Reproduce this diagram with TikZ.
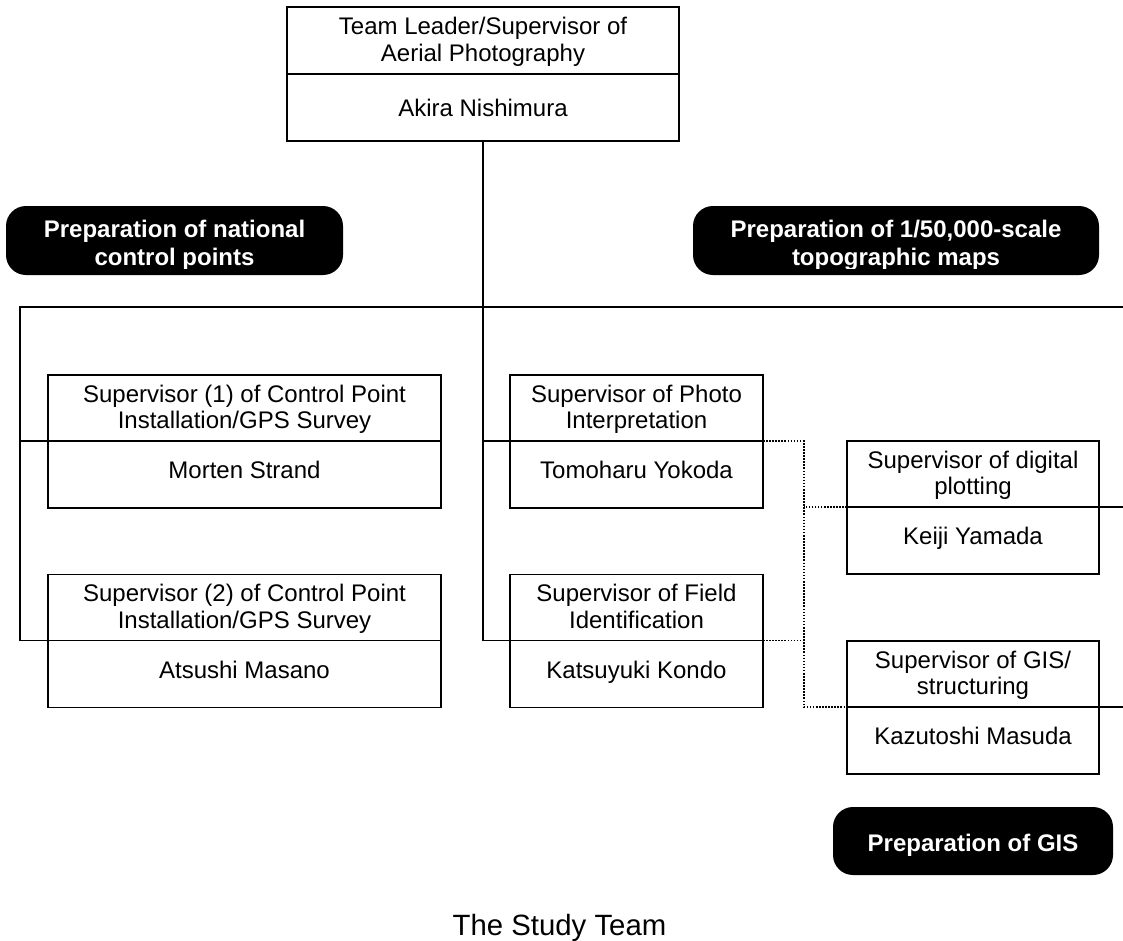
\documentclass[tikz,border=0pt]{standalone}
\usepackage{fontspec}
\setmainfont{Liberation Sans}
\def\pxu{0.75pt}
\begin{document}
\begin{tikzpicture}[x=0.75pt,y=-0.75pt,
  every node/.style={font=\fontsize{18}{20}\selectfont},
  cell/.style={draw, line width=1.4pt, inner sep=0pt, outer sep=0pt, align=center, anchor=center},
  titlecell/.style={cell, text height=33pt, text depth=2pt},
  namecell/.style={cell, text height=13pt, text depth=7pt},
  conn/.style={line width=1.4pt},
  dotconn/.style={line width=1.2pt, black, dash pattern=on 1.2pt off 1.1pt},
  tag/.style={fill=black, rounded corners=15pt, inner sep=0pt, outer sep=0pt, text=white,
    font=\bfseries\fontsize{18}{21}\selectfont, align=center},
  tagtext/.style={text=white, font=\bfseries\fontsize{18}{21}\selectfont,
    align=center, inner sep=0pt, text height=36.8pt, text depth=0pt},
  cliptag/.style={path picture={
    \clip ([yshift=5.25pt]path picture bounding box.south west) rectangle (path picture bounding box.north east);
    \node[tagtext] at (path picture bounding box.center) {#1};}}
]
\useasboundingbox (0,0) rectangle (1123,940);

% top box
\node[titlecell, minimum width=392*\pxu, minimum height=67*\pxu] (toptitle) at (483,40.5) {Team Leader/Supervisor of\\Aerial Photography};
\node[cell, text height=13.5pt, text depth=0pt, minimum width=392*\pxu, minimum height=67*\pxu] (topname) at (483,107.5) {Akira Nishimura};

% tags
\node[tag, minimum width=337*\pxu, minimum height=69*\pxu, cliptag={Preparation of national\\control points}] (tagL) at (174.5,240.5) {};
\node[tag, minimum width=406*\pxu, minimum height=69*\pxu, cliptag={Preparation of 1/50,000-scale\\topographic maps}] (tagR) at (896,240.5) {};
\node[tag, minimum width=280*\pxu, minimum height=68*\pxu, text height=15pt, text depth=0pt] (tagG) at (973,841) {Preparation of GIS};

% left column
\node[titlecell, minimum width=393*\pxu, minimum height=66*\pxu] (l1title) at (244.5,408) {Supervisor (1) of Control Point\\Installation/GPS Survey};
\node[namecell, minimum width=393*\pxu, minimum height=67*\pxu] (l1name) at (244.5,474.5) {Morten Strand};
\node[titlecell, minimum width=393*\pxu, minimum height=66*\pxu] (l2title) at (244.5,607.5) {Supervisor (2) of Control Point\\Installation/GPS Survey};
\node[namecell, minimum width=393*\pxu, minimum height=67*\pxu] (l2name) at (244.5,674) {Atsushi Masano};

% middle column
\node[titlecell, minimum width=253*\pxu, minimum height=66*\pxu] (m1title) at (636.5,408) {Supervisor of Photo\\Interpretation};
\node[namecell, minimum width=253*\pxu, minimum height=67*\pxu] (m1name) at (636.5,474.5) {Tomoharu Yokoda};
\node[titlecell, minimum width=253*\pxu, minimum height=66*\pxu] (m2title) at (636.5,607.5) {Supervisor of Field\\Identification};
\node[namecell, minimum width=253*\pxu, minimum height=67*\pxu] (m2name) at (636.5,674) {Katsuyuki Kondo};

% right column
\node[titlecell, minimum width=252*\pxu, minimum height=66*\pxu] (r1title) at (973,474) {Supervisor of digital\\plotting};
\node[namecell, minimum width=252*\pxu, minimum height=67*\pxu] (r1name) at (973,540.5) {Keiji Yamada};
\node[titlecell, minimum width=252*\pxu, minimum height=66*\pxu] (r2title) at (973,674) {Supervisor of GIS/\\structuring};
\node[namecell, minimum width=252*\pxu, minimum height=67*\pxu] (r2name) at (973,740.5) {Kazutoshi Masuda};

% caption
\node[font=\fontsize{22}{26}\selectfont, anchor=base] (cap) at (559.5,935) {The Study Team};

% coordinates
\coordinate (busL) at (20,307);
\coordinate (busR) at (1123,307);
\coordinate (dTop) at (804,441);
\coordinate (dBot) at (804,707);
\coordinate (r1end) at (1123,507);
\coordinate (r2end) at (1123,707);

% connectors
\draw[conn] (busR) -- (busL) |- (l2name.north west);
\draw[conn] (busL) |- (l1name.north west);
\draw[conn] (topname.south) |- (m2name.north west);
\draw[conn] (topname.south) |- (m1name.north west);
\draw[conn] (r1name.north east) -- (r1end);
\draw[conn] (r2name.north east) -- (r2end);
\draw[dotconn] (m1name.north east) -- (dTop) -- (dBot) -- (r2name.north west);
\draw[dotconn] (m2name.north east) -- (m2name.north east -| dTop);
\draw[dotconn] (r1name.north west) -- (r1name.north west -| dTop);
\end{tikzpicture}
\end{document}
